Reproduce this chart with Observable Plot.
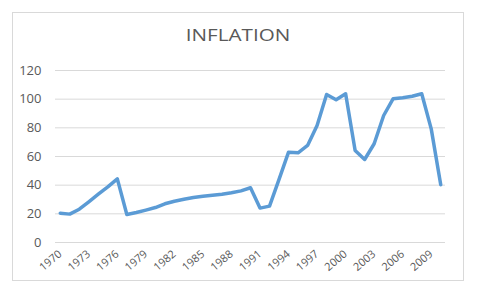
<!DOCTYPE html>
<html>
<head>
<meta charset="utf-8">
<script src="https://cdn.jsdelivr.net/npm/d3@7"></script>
<script src="https://cdn.jsdelivr.net/npm/@observablehq/plot@0.6"></script>
<style>
  html, body { margin: 0; padding: 0; background: #fff; }
  #wrap { position: relative; width: 480px; height: 291px; overflow: hidden; font-family: "Open Sans", Lato, sans-serif; }
  #frame { position: absolute; left: 12px; top: 12px; width: 452px; height: 269px; border: 1px solid #d9d9d9; box-sizing: border-box; }
  #title { position: absolute; left: 0; top: 23px; width: 476px; text-align: center; font-size: 16.5px; color: #595959; transform: scaleX(1.25); transform-origin: 238px 0; }
  #chart { position: absolute; left: 0; top: 55px; }
</style>
</head>
<body>
<div id="wrap">
  <div id="frame"></div>
  <div id="title">INFLATION</div>
  <div id="chart"></div>
</div>
<script>
const years = d3.range(1970, 2011);
const inflation = [
  20.4, 19.8, 23.2, 28.4, 33.7, 38.8, 44.4, 19.5, 20.9, 22.6,
  24.4, 27.0, 28.8, 30.2, 31.4, 32.3, 33.0, 33.7, 34.7, 36.0,
  38.2, 24.0, 25.4, 44.0, 63.0, 62.6, 67.7, 81.6, 103.3, 99.6,
  103.8, 64.2, 57.9, 68.9, 88.6, 100.3, 101.0, 102.0, 103.8, 79.3,
  40.3
];
const yTicks = [0, 20, 40, 60, 80, 100, 120];
const xTicks = [1970, 1973, 1976, 1979, 1982, 1985, 1988, 1991, 1994, 1997, 2000, 2003, 2006, 2009];

const data = years.map((y, i) => ({year: y, value: inflation[i]}));

const chart = Plot.plot({
  width: 480,
  height: 236,
  marginLeft: 55,
  marginRight: 35,
  marginTop: 15,
  marginBottom: 49,
  style: {fontFamily: "'Open Sans', Lato, sans-serif", fontSize: "12px", color: "#595959", background: "transparent"},
  x: {domain: [1969.5, 2010.5]},
  y: {domain: [0, 120]},
  marks: [
    Plot.gridY(yTicks, {stroke: "#d9d9d9", strokeOpacity: 1, strokeWidth: 1}),
    Plot.axisY(yTicks, {tickSize: 0, tickPadding: 14, label: null, fontSize: 13, fill: "#595959"}),
    Plot.axisX(xTicks, {tickSize: 0, tickPadding: 10, tickRotate: -40, label: null, tickFormat: d => String(d), fontSize: 11, fill: "#595959"}),
    Plot.lineY(data, {x: "year", y: "value", stroke: "#5b9bd5", strokeWidth: 3.5, strokeLinejoin: "round", strokeLinecap: "round"})
  ]
});
document.getElementById("chart").appendChild(chart);
</script>
</body>
</html>
